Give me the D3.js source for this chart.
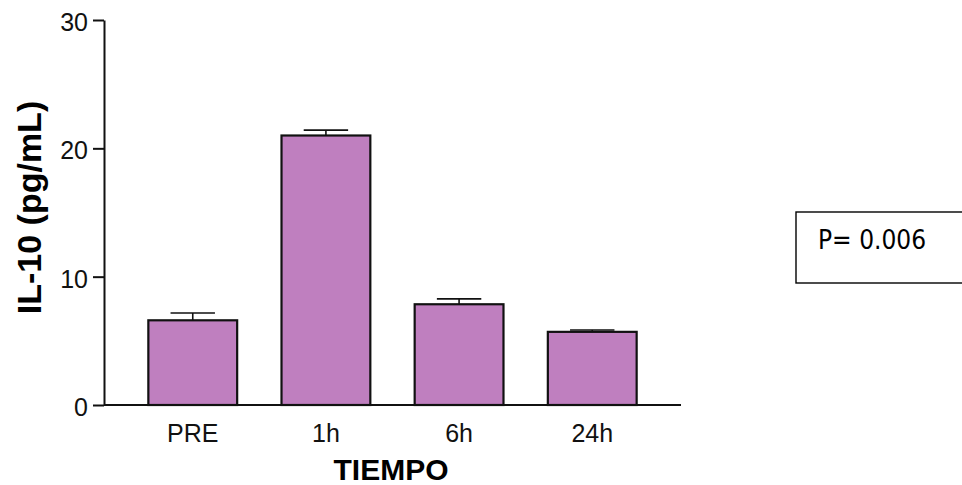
<!DOCTYPE html>
<html>
<head>
<meta charset="utf-8">
<script src="https://cdn.jsdelivr.net/npm/d3@7"></script>
<style>
  html, body { margin: 0; padding: 0; background: #fff; }
  svg { display: block; }
</style>
</head>
<body>
<svg id="chart" width="962" height="485"></svg>
<script>
// IL-10 concentration over time (mean with upper error bar)
const categories = ["PRE", "1h", "6h", "24h"];
const means = [6.6, 21.0, 7.85, 5.7];
const errors = [0.57, 0.42, 0.42, 0.15];
const yTicks = [0, 10, 20, 30];
const yLabel = "IL-10 (pg/mL)";
const xLabel = "TIEMPO";
const pText = "P= 0.006";

const svg = d3.select("#chart");

const x = d3.scaleBand()
  .domain(categories)
  .range([104, 681])
  .paddingInner(0.333)
  .paddingOuter(0.333);

const y = d3.scaleLinear()
  .domain([0, 30])
  .range([405, 20]);

const axisFont = "'Liberation Sans', Arial, sans-serif";

// Bars
svg.append("g")
  .selectAll("rect")
  .data(categories)
  .join("rect")
  .attr("x", d => x(d))
  .attr("y", (d, i) => y(means[i]))
  .attr("width", x.bandwidth())
  .attr("height", (d, i) => y(0) - y(means[i]))
  .attr("fill", "#bf7fbf")
  .attr("stroke", "#111")
  .attr("stroke-width", 2.2);

// Error bars (upper side only)
const eb = svg.append("g")
  .attr("stroke", "#111")
  .attr("stroke-width", 1.6);
categories.forEach((c, i) => {
  const cx = x(c) + x.bandwidth() / 2;
  const capW = x.bandwidth() / 2;
  eb.append("line")
    .attr("x1", cx).attr("x2", cx)
    .attr("y1", y(means[i])).attr("y2", y(means[i] + errors[i]));
  eb.append("line")
    .attr("x1", cx - capW / 2).attr("x2", cx + capW / 2)
    .attr("y1", y(means[i] + errors[i])).attr("y2", y(means[i] + errors[i]));
});

// Y axis
const yAxis = svg.append("g")
  .attr("transform", "translate(104,0)")
  .call(d3.axisLeft(y).tickValues(yTicks).tickSize(11).tickPadding(5).tickSizeOuter(0));
yAxis.select(".domain").attr("stroke", "#111").attr("stroke-width", 2);
yAxis.selectAll(".tick line").attr("stroke", "#111").attr("stroke-width", 2);
yAxis.selectAll(".tick text")
  .attr("font-family", axisFont)
  .attr("font-size", 25)
  .attr("fill", "#111")
  .attr("dy", "0.42em");

// X axis line spanning the plot
svg.append("line")
  .attr("x1", 104).attr("x2", 681)
  .attr("y1", y(0)).attr("y2", y(0))
  .attr("stroke", "#111")
  .attr("stroke-width", 2);

// X category labels
svg.append("g")
  .selectAll("text")
  .data(categories)
  .join("text")
  .attr("x", d => x(d) + x.bandwidth() / 2)
  .attr("y", 442)
  .attr("text-anchor", "middle")
  .attr("font-family", axisFont)
  .attr("font-size", 25)
  .attr("fill", "#111")
  .text(d => d);

// Axis titles
svg.append("text")
  .attr("x", 391)
  .attr("y", 480)
  .attr("text-anchor", "middle")
  .attr("font-family", axisFont)
  .attr("font-weight", "bold")
  .attr("font-size", 30)
  .attr("fill", "#000")
  .text(xLabel);

svg.append("text")
  .attr("transform", "translate(41,207.5) rotate(-90)")
  .attr("text-anchor", "middle")
  .attr("font-family", axisFont)
  .attr("font-weight", "bold")
  .attr("font-size", 34)
  .attr("fill", "#000")
  .text(yLabel);

// P-value box
svg.append("rect")
  .attr("x", 796)
  .attr("y", 212)
  .attr("width", 200)
  .attr("height", 71)
  .attr("fill", "#fff")
  .attr("stroke", "#000")
  .attr("stroke-width", 1.4);

svg.append("text")
  .attr("x", 818)
  .attr("y", 249)
  .attr("font-family", "'DejaVu Sans Condensed', 'DejaVu Sans', sans-serif")
  .attr("font-stretch", "condensed")
  .attr("font-size", 26)
  .attr("fill", "#000")
  .text(pText);
</script>
</body>
</html>
